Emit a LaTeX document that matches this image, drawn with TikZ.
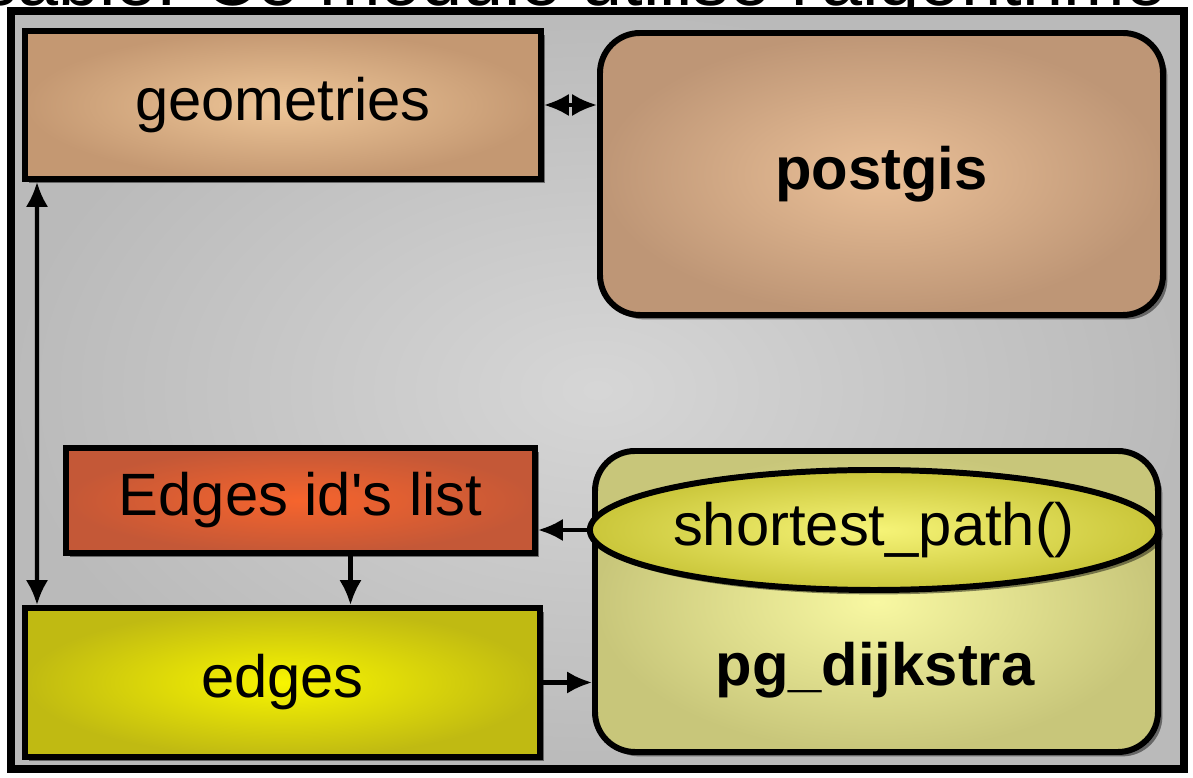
\documentclass[tikz,border=0pt]{standalone}
\usepackage{fontspec}
\setmainfont{Liberation Sans}
\usepackage{xcolor}
\usetikzlibrary{arrows.meta,positioning,shapes,shadows}

\definecolor{tanin}{RGB}{238,198,152}
\definecolor{tanout}{RGB}{196,152,114}
\definecolor{pgin}{RGB}{234,192,152}
\definecolor{pgout}{RGB}{190,150,118}
\definecolor{listin}{RGB}{246,100,45}
\definecolor{listout}{RGB}{196,88,55}
\definecolor{edgin}{RGB}{248,245,0}
\definecolor{edgout}{RGB}{192,186,18}
\definecolor{dijin}{RGB}{248,248,162}
\definecolor{dijout}{RGB}{200,198,122}
\definecolor{ellin}{RGB}{246,244,120}
\definecolor{ellout}{RGB}{202,198,58}

\begin{document}
\begin{tikzpicture}[
    box/.style={draw, rectangle, line width=3.4pt, inner sep=0pt,
        drop shadow={shadow xshift=2.5pt, shadow yshift=-2.5pt, fill=black, opacity=0.45},
        font=\fontsize{34}{40}\selectfont},
    rbox/.style={box, rounded corners=0.8cm},
    tip/.style={line width=2.3pt},
    link/.style={tip, -{Latex[length=0.5cm,width=0.45cm]}},
    twolink/.style={tip, {Latex[length=0.5cm,width=0.45cm]}-{Latex[length=0.5cm,width=0.45cm]}}
]
\useasboundingbox (0,0) rectangle (23.86,15.56);
% line cut off above the frame
\begin{scope}
    \clip (0,15.4) rectangle (23.86,15.56);
    \node [anchor=base west, inner sep=0pt, font=\fontsize{42}{48}\selectfont] (caption) at (-0.4,15.44) {sable. Ce module utilise l\textquotesingle algorithme};
\end{scope}
\node [draw, line width=4.5pt, minimum width=23.46cm, minimum height=15.16cm, inner color=black!16, outer color=black!27] (frame) at (11.95,7.76) {};

\node [box, inner color=tanin, outer color=tanout, minimum width=10.32cm, minimum height=2.96cm] (geo) at (5.66,13.46) {geometries};
\node [rbox, inner color=pgin, outer color=pgout, minimum width=11.26cm, minimum height=5.64cm, font=\fontsize{34}{40}\selectfont\bfseries] (postgis) at (17.63,12.08) {postgis};
\node [box, inner color=listin, outer color=listout, minimum width=9.38cm, minimum height=2.1cm] (list) at (6.01,5.55) {Edges id\textquotesingle s list};
\node [box, inner color=edgin, outer color=edgout, minimum width=10.3cm, minimum height=2.98cm] (edges) at (5.65,1.91) {edges};
\node [rbox, inner color=dijin, outer color=dijout, minimum width=11.26cm, minimum height=6.02cm] (dij) at (17.53,3.53) {};
\node [box, ellipse, inner color=ellin, outer color=ellout, minimum width=11.04cm, minimum height=2.4cm] (sp) at (17.48,4.96) {shortest\_path()};
\node [font=\fontsize{34}{40}\selectfont\bfseries] (dijname) at (17.5,2.16) {pg\_dijkstra};

\draw [twolink] (geo.east) -- (geo.east -| postgis.west);
\draw [twolink] ([xshift=0.3cm]geo.south west) -- ([xshift=0.3cm]edges.north west);
\draw [link] ([xshift=1cm]list.south) -- ([xshift=1cm]list.south |- edges.north);
\draw [link] (sp.west) -- (sp.west -| list.east);
\draw [link] (edges.east) -- (edges.east -| dij.west);
\end{tikzpicture}
\end{document}
